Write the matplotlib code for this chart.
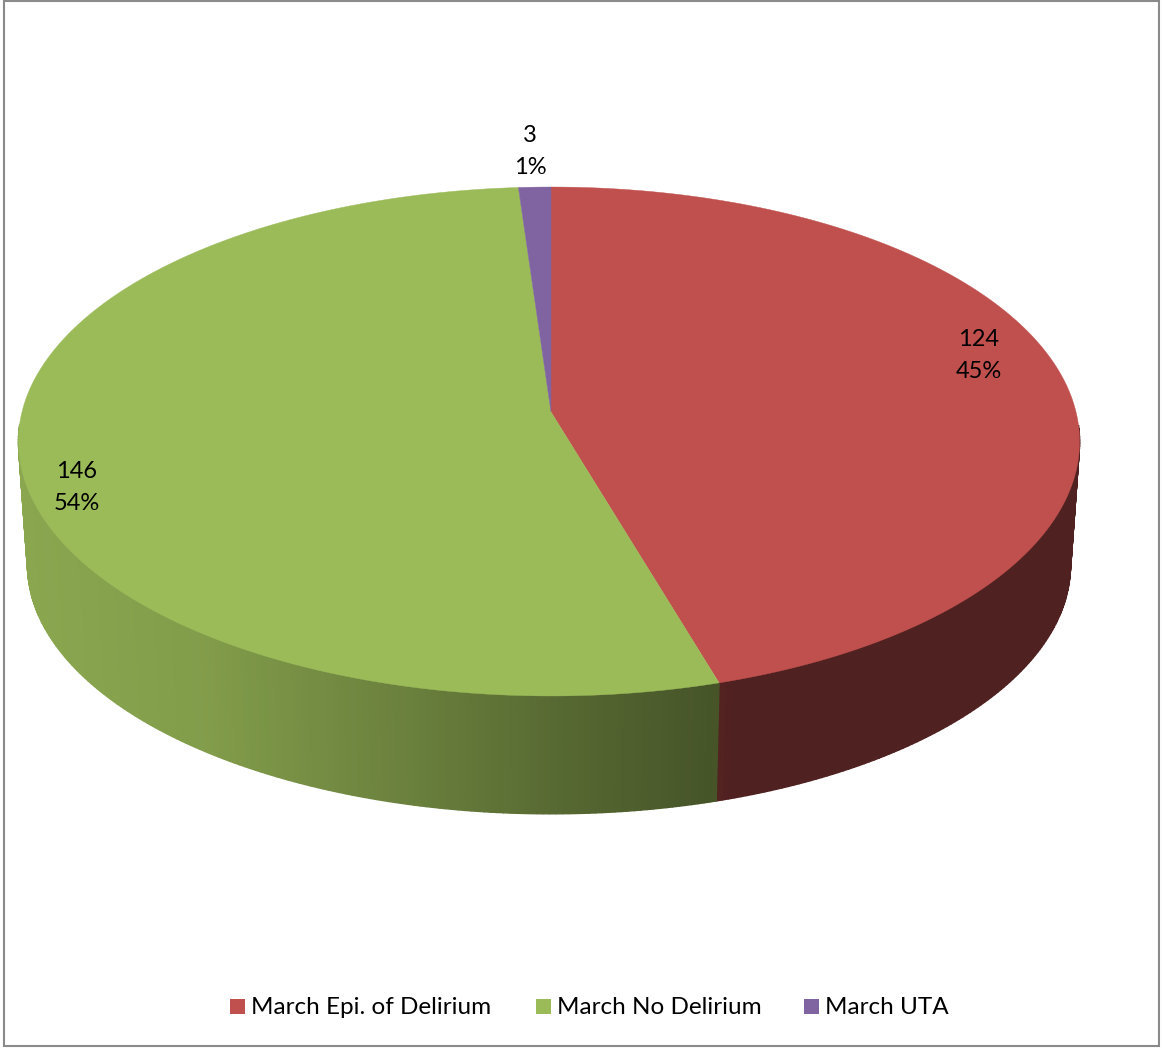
import numpy as np
import matplotlib
matplotlib.use("Agg")
import matplotlib.pyplot as plt
from matplotlib.patches import Polygon, Rectangle

# data
categories = ["March Epi. of Delirium", "March No Delirium", "March UTA"]
counts = [124, 146, 3]
percent_labels = ["45%", "54%", "1%"]

# look
COLORS = ["#C0504D", "#9BBB59", "#8064A2"]
BORDER = "#8A8A8A"
W, H = 1162, 1048

# perspective of the pie disc, in pixels
CX = 551
PERSP = 0.1159
SKEW = 2.0  # left side of the disc reaches a bit further than the right
TOP_R, TOP_Y, TOP_B = 527, 412, 203.3
LOW_R, LOW_Y, LOW_B = 518, 536, 183.5

# side wall gets darker going right
SHADE_X = [27, 200, 400, 600, 715, 730, 1071]
SHADE_K = [0.89, 0.84, 0.69, 0.53, 0.45, 0.41, 0.41]

plt.rcParams["font.family"] = ["Lato", "DejaVu Sans"]


def project(theta, r, y0, b):
    u, v = np.sin(theta), np.cos(theta)
    d = 1 + PERSP * v
    return CX + u * (r - SKEW * u) / d, (y0 - b * v) / d


fig = plt.figure(figsize=(W / 100, H / 100), dpi=100)
ax = fig.add_axes([0, 0, 1, 1])
ax.set_xlim(0, W)
ax.set_ylim(H, 0)
ax.axis("off")

edges = np.cumsum([0] + counts) / sum(counts) * 2 * np.pi

# side wall, drawn in thin strips
for i, col in enumerate(COLORS):
    rgb = np.array(matplotlib.colors.to_rgb(col))
    th = np.linspace(edges[i], edges[i + 1], max(int((edges[i + 1] - edges[i]) * 90), 2))
    for a, b in zip(th[:-1], th[1:]):
        if np.cos((a + b) / 2) > -0.05:
            continue  # back of the pie is hidden anyway
        x1, y1 = project(np.array([a, b]), TOP_R, TOP_Y, TOP_B)
        x2, y2 = project(np.array([b, a]), LOW_R, LOW_Y, LOW_B)
        k = np.interp((x1.mean() + x2.mean()) / 2, SHADE_X, SHADE_K)
        c = rgb * k
        ax.add_patch(Polygon(np.column_stack([np.r_[x1, x2], np.r_[y1, y2]]),
                             facecolor=c, edgecolor=c, lw=1.0))

# top face
for i, col in enumerate(COLORS):
    th = np.linspace(edges[i], edges[i + 1], 300)
    x, y = project(th, TOP_R, TOP_Y, TOP_B)
    ax.add_patch(Polygon(np.column_stack([np.r_[CX, x], np.r_[TOP_Y, y]]),
                         facecolor=col, edgecolor=col, lw=0.3))

# data labels
label_pos = [(979, 355), (77, 488), (530, 152)]
for n, pct, (lx, ly) in zip(counts, percent_labels, label_pos):
    ax.text(lx, ly - 16, str(n), ha="center", va="center", fontsize=17, color="black")
    ax.text(lx, ly + 16, pct, ha="center", va="center", fontsize=17, color="black")

# legend
swatch_x = [230, 536, 804]
for name, col, sx in zip(categories, COLORS, swatch_x):
    ax.add_patch(Rectangle((sx, 999), 15, 15, facecolor=col, edgecolor="none"))
    ax.text(sx + 21, 1008, name, ha="left", va="center", fontsize=17.5, color="black")

# chart frame
ax.add_patch(Rectangle((4, 1), W - 3 - 4, 1046 - 1, fill=False, edgecolor=BORDER, lw=1.5))

fig.savefig("out.png", dpi=100, facecolor="white")
